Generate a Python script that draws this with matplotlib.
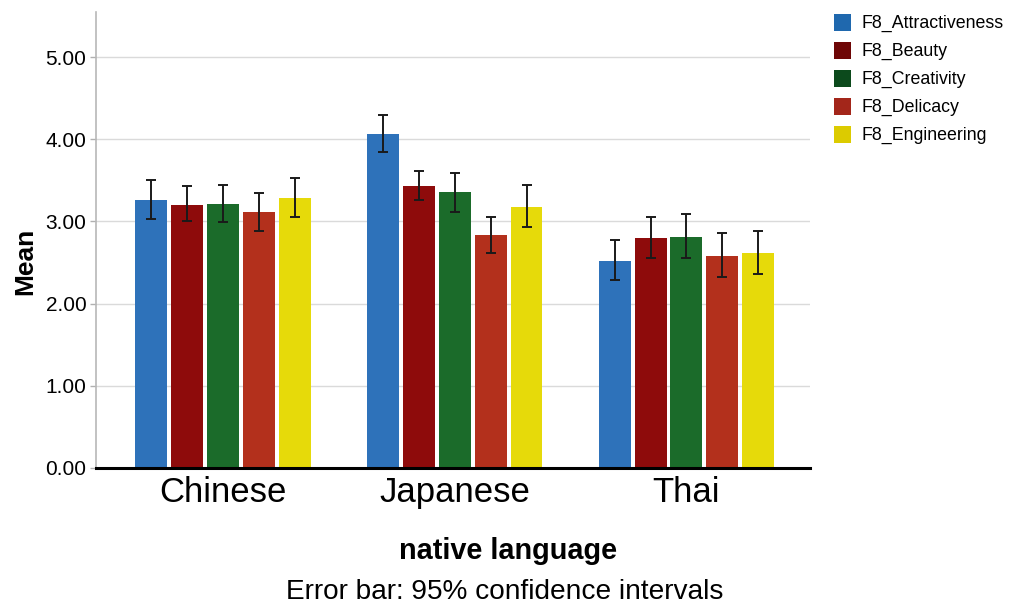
import numpy as np
import matplotlib
matplotlib.use("Agg")
import matplotlib.pyplot as plt
from matplotlib.patches import Patch

plt.rcParams['font.family'] = ['Liberation Sans', 'DejaVu Sans']

languages = ["Chinese", "Japanese", "Thai"]
factors = ["F8_Attractiveness", "F8_Beauty", "F8_Creativity", "F8_Delicacy", "F8_Engineering"]
colors = ["#2E72BA", "#8E0B0B", "#1B6B2A", "#B3301C", "#E6DA0A"]
legend_colors = ["#1F68AE", "#6E0606", "#0C4A1C", "#A3261A", "#DCCB00"]

# mean per factor, one row per factor, columns = languages
means = np.array([
    [3.26, 4.06, 2.52],
    [3.20, 3.43, 2.80],
    [3.21, 3.36, 2.81],
    [3.11, 2.83, 2.58],
    [3.28, 3.18, 2.62],
])
ci_low = np.array([
    [3.03, 3.85, 2.29],
    [3.01, 3.26, 2.55],
    [2.99, 3.11, 2.56],
    [2.89, 2.62, 2.33],
    [3.06, 2.93, 2.36],
])
ci_high = np.array([
    [3.51, 4.30, 2.77],
    [3.43, 3.62, 3.05],
    [3.45, 3.59, 3.09],
    [3.35, 3.05, 2.86],
    [3.53, 3.44, 2.88],
])

fig = plt.figure(figsize=(10.22, 6.08), dpi=100)
ax = fig.add_axes([0.094, 0.2303, 0.699, 0.75])

x = np.arange(len(languages))
slot = 0.155
bw = 0.138
for i in range(len(factors)):
    pos = x + (i - 2) * slot
    ax.bar(pos, means[i], width=bw, color=colors[i], zorder=2)
    err = np.vstack([means[i] - ci_low[i], ci_high[i] - means[i]])
    ax.errorbar(pos, means[i], yerr=err, fmt='none', ecolor='#1a1a1a',
                elinewidth=1.4, capsize=3.5, capthick=1.4, zorder=3)

ax.set_xlim(-0.547, 2.535)
ax.set_ylim(0, 5.55)
ax.set_yticks([0, 1, 2, 3, 4, 5])
ax.set_yticklabels(["%.2f" % v for v in [0, 1, 2, 3, 4, 5]], fontsize=15)
ax.set_xticks(x)
ax.set_xticklabels(languages, fontsize=25)
ax.tick_params(axis='x', length=0, pad=6)
ax.tick_params(axis='y', length=4, width=1, color='#b0b0b0', pad=3)

ax.yaxis.grid(True, color='#dadada', linewidth=1, zorder=0)
ax.set_axisbelow(True)
for s in ['top', 'right']:
    ax.spines[s].set_visible(False)
ax.spines['left'].set_color('#b8b8b8')
ax.spines['left'].set_linewidth(1.2)
ax.spines['bottom'].set_color('black')
ax.spines['bottom'].set_linewidth(2.2)

fig.text(0.025, 0.57, "Mean", rotation=90, fontsize=19, fontweight='bold',
         ha='center', va='center')
fig.text(0.497, 0.094, "native language", fontsize=20.8, fontweight='bold',
         ha='center', va='center')
fig.text(0.494, 0.026, "Error bar: 95% confidence intervals", fontsize=20.2,
         ha='center', va='center')

handles = [Patch(facecolor=c, edgecolor='none') for c in legend_colors]
fig.legend(handles, factors, loc='upper left', bbox_to_anchor=(0.800, 1.004),
           frameon=False, fontsize=12.8, handlelength=1.0, handleheight=1.1,
           handletextpad=0.55, labelspacing=0.52)

fig.savefig("out.png", dpi=100)
